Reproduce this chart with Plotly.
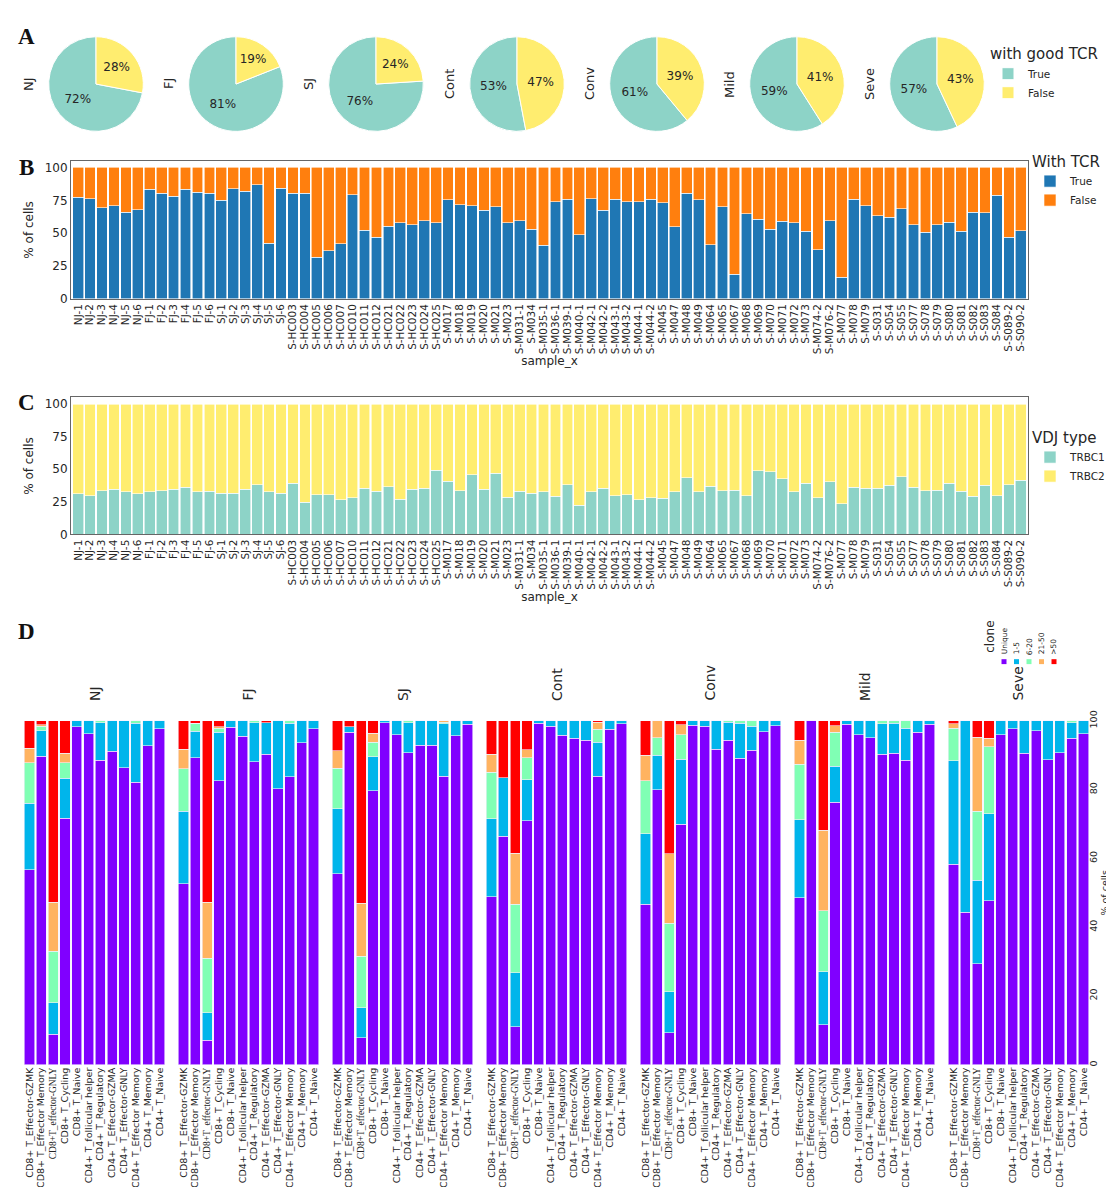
import plotly.graph_objects as go

W, H = 1114, 1187


def px(x):
    return x / W


def py(y):
    return 1 - y / H


FONT = "DejaVu Sans"
TXT = "#262626"

# ---------------- Panel A data ----------------
pie_groups = ["NJ", "FJ", "SJ", "Cont", "Conv", "Mild", "Seve"]
good_tcr_labels = ["True", "False"]
good_tcr_true = [72, 81, 76, 53, 61, 59, 57]
good_tcr_false = [28, 19, 24, 47, 39, 41, 43]
good_tcr_colors = ["#8dd3c7", "#ffed6f"]

# ---------------- Panels B / C data ----------------
samples = [
    "NJ-1", "NJ-2", "NJ-3", "NJ-4", "NJ-5", "NJ-6",
    "FJ-1", "FJ-2", "FJ-3", "FJ-4", "FJ-5", "FJ-6",
    "SJ-1", "SJ-2", "SJ-3", "SJ-4", "SJ-5", "SJ-6",
    "S-HC003", "S-HC004", "S-HC005", "S-HC006", "S-HC007", "S-HC010", "S-HC011",
    "S-HC012", "S-HC021", "S-HC022", "S-HC023", "S-HC024", "S-HC025",
    "S-M017", "S-M018", "S-M019", "S-M020", "S-M021", "S-M023", "S-M031-1", "S-M034",
    "S-M035-1", "S-M036-1", "S-M039-1", "S-M040-1", "S-M042-1", "S-M042-2", "S-M043-1",
    "S-M043-2", "S-M044-1", "S-M044-2", "S-M045", "S-M047", "S-M048", "S-M049", "S-M064",
    "S-M065", "S-M067", "S-M068", "S-M069", "S-M070", "S-M071", "S-M072", "S-M073",
    "S-M074-2", "S-M076-2", "S-M077", "S-M078", "S-M079",
    "S-S031", "S-S054", "S-S055", "S-S077", "S-S078", "S-S079", "S-S080", "S-S081",
    "S-S082", "S-S083", "S-S084", "S-S089-2", "S-S090-2",
]

with_tcr_true = [
    77.5, 76.3, 69.3, 71.0, 65.8, 68.0,
    83.3, 80.5, 78.0, 83.5, 81.0, 80.3,
    75.0, 84.0, 81.8, 87.0, 42.3, 84.3,
    80.3, 80.5, 31.8, 36.5, 42.0, 79.3, 52.3, 47.0, 55.3, 57.8, 56.5, 59.5, 58.0,
    75.5, 71.5, 70.8, 67.3, 70.3, 57.8, 59.3, 53.0, 41.0, 73.8, 75.8, 48.8, 76.3,
    67.5, 75.8, 73.8, 73.8, 75.8, 73.3, 55.0, 80.3, 75.3, 41.3, 70.0, 18.8, 64.8,
    60.5, 53.0, 59.0, 57.8, 51.3, 37.3, 59.5, 16.5, 75.8, 70.8,
    63.3, 62.3, 68.8, 56.3, 50.8, 56.3, 58.3, 51.3, 65.8, 65.5, 78.8, 47.0, 52.0,
]
with_tcr_false = [
    22.5, 23.7, 30.7, 29.0, 34.2, 32.0,
    16.7, 19.5, 22.0, 16.5, 19.0, 19.7,
    25.0, 16.0, 18.2, 13.0, 57.7, 15.7,
    19.7, 19.5, 68.2, 63.5, 58.0, 20.7, 47.7, 53.0, 44.7, 42.2, 43.5, 40.5, 42.0,
    24.5, 28.5, 29.2, 32.7, 29.7, 42.2, 40.7, 47.0, 59.0, 26.2, 24.2, 51.2, 23.7,
    32.5, 24.2, 26.2, 26.2, 24.2, 26.7, 45.0, 19.7, 24.7, 58.7, 30.0, 81.2, 35.2,
    39.5, 47.0, 41.0, 42.2, 48.7, 62.7, 40.5, 83.5, 24.2, 29.2,
    36.7, 37.7, 31.2, 43.7, 49.2, 43.7, 41.7, 48.7, 34.2, 34.5, 21.2, 53.0, 48.0,
]

vdj_trbc1 = [
    31.1, 29.8, 33.6, 34.8, 32.6, 31.1,
    32.6, 33.6, 34.8, 36.3, 32.6, 33.1,
    31.6, 31.6, 34.8, 38.1, 32.6, 31.6,
    39.3, 24.8, 30.6, 30.6, 26.6, 28.3, 35.3, 33.3, 36.6, 27.1, 34.6, 35.3, 49.1,
    40.9, 33.6, 45.9, 34.8, 46.9, 28.6, 33.1, 31.6, 32.6, 29.3, 38.1, 22.6, 32.6,
    35.6, 29.8, 30.6, 26.6, 28.3, 27.6, 32.6, 43.6, 32.6, 37.1, 33.6, 33.8, 29.6,
    48.9, 47.9, 42.6, 32.6, 39.3, 28.3, 40.6, 23.6, 36.1, 35.3,
    35.3, 37.6, 44.4, 36.1, 33.6, 33.8, 39.1, 33.1, 29.3, 37.6, 29.6, 38.1, 41.6,
]
vdj_trbc2 = [
    68.9, 70.2, 66.4, 65.2, 67.4, 68.9,
    67.4, 66.4, 65.2, 63.7, 67.4, 66.9,
    68.4, 68.4, 65.2, 61.9, 67.4, 68.4,
    60.7, 75.2, 69.4, 69.4, 73.4, 71.7, 64.7, 66.7, 63.4, 72.9, 65.4, 64.7, 50.9,
    59.1, 66.4, 54.1, 65.2, 53.1, 71.4, 66.9, 68.4, 67.4, 70.7, 61.9, 77.4, 67.4,
    64.4, 70.2, 69.4, 73.4, 71.7, 72.4, 67.4, 56.4, 67.4, 62.9, 66.4, 66.2, 70.4,
    51.1, 52.1, 57.4, 67.4, 60.7, 71.7, 59.4, 76.4, 63.9, 64.7,
    64.7, 62.4, 55.6, 63.9, 66.4, 66.2, 60.9, 66.9, 70.7, 62.4, 70.4, 61.9, 58.4,
]

# ---------------- Panel D data ----------------
cell_types = [
    "CD8+ T_Effector-GZMK", "CD8+ T_Effector Memory", "CD8+T_effector-GNLY",
    "CD8+ T_Cycling", "CD8+ T_Naive", "CD4+ T_follicular helper", "CD4+ T_Regulatory",
    "CD4+ T_Effector-GZMA", "CD4+ T_Effector-GNLY", "CD4+ T_Effector Memory",
    "CD4+ T_Memory", "CD4+ T_Naive",
]
clone_labels = ["Unique", "1-5", "6-20", "21-50", ">50"]
clone_colors = ["#8000ff", "#00b5eb", "#80ffb4", "#ffb360", "#ff0000"]

# rows: NJ, FJ, SJ, Cont, Conv, Mild, Seve ; columns: cell_types
clone_unique = [
    [56.7, 89.7, 8.9, 71.7, 98.2, 96.2, 88.5, 91.2, 86.4, 82.1, 92.7, 97.7],
    [52.6, 89.3, 7.2, 82.6, 98.1, 95.5, 88.1, 90.3, 80.2, 83.8, 93.6, 97.7],
    [55.5, 96.7, 7.9, 79.6, 99.4, 96.0, 90.7, 92.9, 92.9, 83.9, 95.6, 99.0],
    [48.8, 66.5, 11.0, 71.0, 99.3, 98.4, 95.8, 94.9, 94.3, 83.9, 97.5, 99.2],
    [46.6, 79.9, 9.3, 69.9, 98.7, 98.4, 91.7, 94.4, 89.1, 91.4, 96.8, 98.6],
    [48.5, 100.0, 11.6, 76.3, 99.0, 96.0, 95.0, 90.2, 90.6, 88.5, 96.6, 99.0],
    [58.3, 44.4, 29.3, 47.7, 96.0, 97.7, 90.6, 97.1, 88.7, 90.7, 94.9, 96.2],
]
clone_1_5 = [
    [19.4, 7.4, 9.2, 11.6, 1.8, 3.8, 11.0, 8.8, 13.6, 17.2, 7.3, 2.3],
    [21.1, 7.6, 7.9, 14.1, 1.9, 4.5, 11.3, 9.2, 19.8, 15.5, 6.4, 2.3],
    [18.9, 1.5, 8.7, 9.9, 0.6, 4.0, 8.8, 7.1, 7.1, 15.3, 4.4, 1.0],
    [22.7, 16.9, 15.7, 11.8, 0.7, 1.6, 4.2, 5.1, 5.7, 9.9, 2.5, 0.8],
    [20.5, 10.1, 12.0, 18.9, 1.3, 1.6, 8.3, 5.2, 10.2, 7.0, 3.2, 1.4],
    [22.8, 0.0, 15.4, 10.5, 1.0, 4.0, 5.0, 8.9, 8.7, 9.3, 3.4, 1.0],
    [30.1, 55.6, 24.4, 25.3, 4.0, 2.3, 9.4, 2.9, 11.3, 9.3, 4.5, 3.8],
]
clone_6_20 = [
    [11.7, 1.3, 14.9, 4.5, 0.0, 0.0, 0.5, 0.0, 0.0, 0.7, 0.0, 0.0],
    [12.3, 2.4, 15.8, 1.2, 0.0, 0.0, 0.6, 0.0, 0.0, 0.7, 0.0, 0.0],
    [11.8, 0.0, 15.0, 4.3, 0.0, 0.0, 0.5, 0.0, 0.0, 0.4, 0.0, 0.0],
    [13.6, 0.0, 20.0, 6.4, 0.0, 0.0, 0.0, 0.0, 0.0, 3.7, 0.0, 0.0],
    [15.5, 5.0, 19.8, 7.2, 0.0, 0.0, 0.0, 0.4, 0.7, 1.6, 0.0, 0.0],
    [16.1, 0.0, 17.8, 9.9, 0.0, 0.0, 0.0, 0.9, 0.7, 2.2, 0.0, 0.0],
    [9.4, 0.0, 20.0, 19.4, 0.0, 0.0, 0.0, 0.0, 0.0, 0.0, 0.6, 0.0],
]
clone_21_50 = [
    [4.2, 0.5, 14.2, 2.8, 0.0, 0.0, 0.0, 0.0, 0.0, 0.0, 0.0, 0.0],
    [5.7, 0.0, 16.3, 0.4, 0.0, 0.0, 0.0, 0.0, 0.0, 0.0, 0.0, 0.0],
    [5.1, 0.0, 15.3, 2.6, 0.0, 0.0, 0.0, 0.0, 0.0, 0.4, 0.0, 0.0],
    [5.2, 0.0, 14.8, 2.4, 0.0, 0.0, 0.0, 0.0, 0.0, 2.1, 0.0, 0.0],
    [7.4, 5.0, 20.2, 2.9, 0.0, 0.0, 0.0, 0.0, 0.0, 0.0, 0.0, 0.0],
    [7.0, 0.0, 23.4, 1.8, 0.0, 0.0, 0.0, 0.0, 0.0, 0.0, 0.0, 0.0],
    [1.4, 0.0, 21.5, 2.5, 0.0, 0.0, 0.0, 0.0, 0.0, 0.0, 0.0, 0.0],
]
clone_gt_50 = [
    [8.0, 1.1, 52.8, 9.4, 0.0, 0.0, 0.0, 0.0, 0.0, 0.0, 0.0, 0.0],
    [8.3, 0.7, 52.8, 1.7, 0.0, 0.0, 0.0, 0.5, 0.0, 0.0, 0.0, 0.0],
    [8.7, 1.8, 53.1, 3.6, 0.0, 0.0, 0.0, 0.0, 0.0, 0.0, 0.0, 0.0],
    [9.7, 16.6, 38.5, 8.4, 0.0, 0.0, 0.0, 0.0, 0.0, 0.4, 0.0, 0.0],
    [10.0, 0.0, 38.7, 1.1, 0.0, 0.0, 0.0, 0.0, 0.0, 0.0, 0.0, 0.0],
    [5.6, 0.0, 31.8, 1.5, 0.0, 0.0, 0.0, 0.0, 0.0, 0.0, 0.0, 0.0],
    [0.8, 0.0, 4.8, 5.1, 0.0, 0.0, 0.0, 0.0, 0.0, 0.0, 0.0, 0.0],
]
clone_series = [clone_unique, clone_1_5, clone_6_20, clone_21_50, clone_gt_50]

fig = go.Figure()
annotations = []
shapes = []

# ---------------- Panel A: pies ----------------
pie_cx = [88, 228, 368, 509, 649, 789, 929]
pie_cy, pie_r = 67, 48
for i, g in enumerate(pie_groups):
    cx = pie_cx[i]
    vals = [good_tcr_true[i], good_tcr_false[i]]
    # start the first ("True") wedge where the "False" wedge ends, so that
    # "False" begins at 12 o'clock and runs clockwise (as in the reference)
    start_angle = 360.0 * vals[1] / sum(vals)
    fig.add_trace(go.Pie(
        labels=good_tcr_labels,
        values=vals,
        marker=dict(colors=good_tcr_colors, line=dict(color="white", width=1)),
        sort=False, direction="clockwise", rotation=start_angle,
        textinfo="percent", texttemplate="%{percent:.0%}",
        textposition="inside", insidetextorientation="horizontal",
        insidetextfont=dict(family=FONT, size=12, color=TXT),
        domain=dict(x=[px(cx - pie_r), px(cx + pie_r)],
                    y=[py(pie_cy + pie_r), py(pie_cy - pie_r)]),
        legend="legend", showlegend=(i == 0), hoverinfo="label+percent",
    ))
    annotations.append(dict(
        x=px(cx - 68), y=py(pie_cy), xref="paper", yref="paper", text=g,
        textangle=-90, showarrow=False, font=dict(family=FONT, size=13, color=TXT),
        xanchor="center", yanchor="middle"))

# ---------------- Panel B ----------------
fig.add_trace(go.Bar(x=samples, y=with_tcr_true, name="True", width=0.9,
                     marker=dict(color="#1f77b4", line=dict(color="white", width=0.6)),
                     xaxis="x", yaxis="y", legend="legend2"))
fig.add_trace(go.Bar(x=samples, y=with_tcr_false, name="False", width=0.9,
                     marker=dict(color="#ff7f0e", line=dict(color="white", width=0.6)),
                     xaxis="x", yaxis="y", legend="legend2"))

# ---------------- Panel C ----------------
fig.add_trace(go.Bar(x=samples, y=vdj_trbc1, name="TRBC1", width=0.9,
                     marker=dict(color="#8dd3c7", line=dict(color="white", width=0.6)),
                     xaxis="x2", yaxis="y2", legend="legend3"))
fig.add_trace(go.Bar(x=samples, y=vdj_trbc2, name="TRBC2", width=0.9,
                     marker=dict(color="#ffed6f", line=dict(color="white", width=0.6)),
                     xaxis="x2", yaxis="y2", legend="legend3"))

# ---------------- Panel D ----------------
d_x0, d_pitch, d_w = 15, 154, 143
d_top, d_bot = 713, 1062
tick_text = [
    ('<span style="font-family:Liberation Serif">%s</span>' % c) if "effector-GNLY" in c else c
    for c in cell_types
]
for gi, g in enumerate(pie_groups):
    ax = gi + 3
    for ci, cl in enumerate(clone_labels):
        fig.add_trace(go.Bar(
            x=cell_types, y=clone_series[ci][gi], name=cl, width=0.86,
            marker=dict(color=clone_colors[ci], line=dict(color="#f4eefc", width=0.6)),
            xaxis="x%d" % ax, yaxis="y%d" % ax, showlegend=False))
    left = d_x0 + gi * d_pitch
    xa = dict(domain=[px(left), px(left + d_w)], anchor="y%d" % ax, type="category",
              range=[-0.55, 11.55], tickangle=-90, tickmode="array",
              tickvals=cell_types, ticktext=tick_text,
              tickfont=dict(family=FONT, size=9.5, color=TXT), showline=False,
              showgrid=False, zeroline=False, ticks="", fixedrange=True)
    ya = dict(domain=[py(d_bot), py(d_top)], anchor="x%d" % ax, range=[0, 100],
              showgrid=False, zeroline=False, showline=False, ticks="",
              showticklabels=False, tickvals=[0, 20, 40, 60, 80, 100], fixedrange=True)
    if gi == len(pie_groups) - 1:
        ya.update(side="right", showticklabels=True, tickangle=-90,
                  ticklabelstandoff=-4,
                  tickfont=dict(family=FONT, size=9.5, color=TXT),
                  title=dict(text="% of cells", standoff=3,
                             font=dict(family=FONT, size=9.5, color=TXT)))
    fig.update_layout(**{"xaxis%d" % ax: xa, "yaxis%d" % ax: ya})
    annotations.append(dict(
        x=px(left + d_w / 2), y=py(695), xref="paper", yref="paper", text=g,
        textangle=-90, showarrow=False, font=dict(family=FONT, size=14, color=TXT),
        xanchor="center", yanchor="bottom"))

# rotated legend of panel D
annotations.append(dict(x=px(982), y=py(646), xref="paper", yref="paper", text="clone",
                        textangle=-90, showarrow=False,
                        font=dict(family=FONT, size=12, color=TXT),
                        xanchor="center", yanchor="bottom"))
leg_x = [996, 1008.5, 1021, 1033.5, 1046]
for k, cl in enumerate(clone_labels):
    annotations.append(dict(x=px(leg_x[k]), y=py(648), xref="paper", yref="paper",
                            text=cl, textangle=-90, showarrow=False,
                            font=dict(family=FONT, size=7.5, color=TXT),
                            xanchor="center", yanchor="bottom"))
    shapes.append(dict(type="rect", xref="paper", yref="paper",
                       x0=px(leg_x[k] - 2.5), x1=px(leg_x[k] + 2.5),
                       y0=py(655.5), y1=py(650.5),
                       fillcolor=clone_colors[k], line=dict(width=0)))

# panel letters
for letter, (lx, ly) in {"A": (18, 19), "B": (18, 152), "C": (18, 390), "D": (18, 622)}.items():
    annotations.append(dict(x=px(lx), y=py(ly), xref="paper", yref="paper", text="<b>%s</b>" % letter,
                            showarrow=False, font=dict(family="Liberation Serif", size=23, color="#111"),
                            xanchor="center", yanchor="middle"))

frame = dict(showline=True, mirror=True, linecolor="#666", linewidth=1)
common_x = dict(type="category", tickangle=-90, range=[-0.6, 79.6],
                tickmode="array", tickvals=samples, ticktext=samples,
                tickfont=dict(family=FONT, size=10.5, color=TXT), ticks="",
                showgrid=False, zeroline=False, fixedrange=True,
                title=dict(text="sample_x", font=dict(family=FONT, size=12, color=TXT), standoff=2),
                **frame)
common_y = dict(range=[0, 105], tickvals=[0, 25, 50, 75, 100],
                tickfont=dict(family=FONT, size=12, color=TXT), ticks="",
                showgrid=False, zeroline=False, fixedrange=True,
                title=dict(text="% of cells", font=dict(family=FONT, size=12, color=TXT), standoff=8),
                **frame)

legend_common = dict(bgcolor="rgba(0,0,0,0)", borderwidth=0, xanchor="left", yanchor="top",
                     font=dict(family=FONT, size=10.5, color=TXT), tracegroupgap=0,
                     traceorder="normal", itemwidth=30,
                     itemclick=False, itemdoubleclick=False)

fig.update_layout(
    width=W, height=H, autosize=False,
    margin=dict(l=0, r=0, t=0, b=0),
    paper_bgcolor="white", plot_bgcolor="white",
    barmode="stack",
    font=dict(family=FONT, color=TXT),
    xaxis=dict(domain=[px(63), px(1020)], anchor="y", **common_x),
    yaxis=dict(domain=[py(285), py(145)], anchor="x", **common_y),
    xaxis2=dict(domain=[px(63), px(1020)], anchor="y2", **common_x),
    yaxis2=dict(domain=[py(524), py(385)], anchor="x2", **common_y),
    legend=dict(x=px(980), y=py(22),
                title=dict(text="with good TCR", font=dict(family=FONT, size=15, color=TXT)),
                **legend_common),
    legend2=dict(x=px(1022), y=py(131),
                 title=dict(text="With TCR", font=dict(family=FONT, size=15, color=TXT)),
                 **legend_common),
    legend3=dict(x=px(1022), y=py(411),
                 title=dict(text="VDJ type", font=dict(family=FONT, size=15, color=TXT)),
                 **legend_common),
    annotations=annotations,
    shapes=shapes,
    showlegend=True,
)

fig.write_html("out.html")
